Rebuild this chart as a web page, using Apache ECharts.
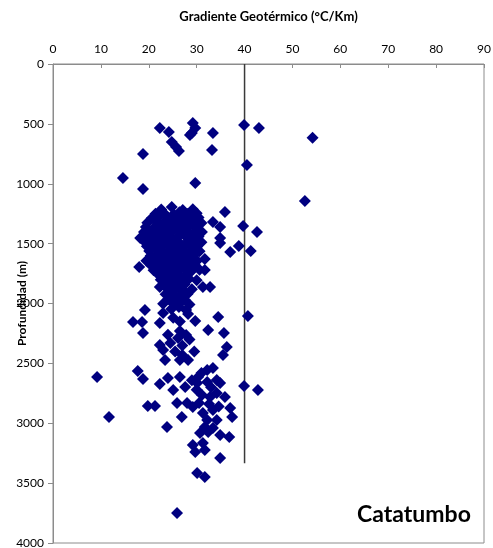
<!DOCTYPE html>
<html>
<head>
<meta charset="utf-8">
<script src="https://cdn.jsdelivr.net/npm/echarts@6/dist/echarts.min.js"></script>
<style>html,body{margin:0;padding:0;background:#fff}#c{width:493px;height:548px}</style>
</head>
<body>
<div id="c"></div>
<script>
// Tick labels
var xTicks = [0, 10, 20, 30, 40, 50, 60, 70, 80, 90];
var yTicks = [0, 500, 1000, 1500, 2000, 2500, 3000, 3500, 4000];

// Shallow points [gradient °C/Km, depth m]
var shallowPoints = [
  [22.3,534],[24.2,568],[24.8,651],[25.7,693],[26.3,726],[29.2,493],[29.7,534],[29.0,576],[28.6,593],
  [33.4,576],[33.2,718],[39.9,509],[43.0,534],[54.2,615],[40.5,843],[52.6,1144],
  [18.8,752],[14.6,952],[18.8,1044],[29.7,994]
];

// Dense cluster points
var clusterPoints = [
  [22.6,1215],[24.8,1195],[27.1,1220],[29.2,1213],
  [21.4,1250],[23.1,1242],[25.2,1254],[26.4,1238],[28.1,1252],[30.0,1246],
  [20.6,1288],[22.0,1278],[24.1,1292],[26.0,1282],[27.6,1274],[29.1,1290],[30.4,1282],
  [19.7,1325],[21.6,1318],[23.0,1330],[25.1,1322],[26.6,1315],[28.0,1332],[29.6,1320],[31.0,1328],
  [19.4,1361],[21.1,1368],[22.4,1356],[24.0,1365],[25.6,1358],[27.1,1370],[28.4,1360],[30.1,1366],
  [19.0,1402],[20.6,1396],[22.1,1408],[23.5,1400],[25.0,1395],[26.6,1405],[28.0,1398],[29.5,1410],[31.1,1402],
  [18.2,1453],[20.0,1440],[21.4,1446],[23.1,1438],[24.5,1450],[26.1,1442],[27.6,1436],[29.0,1448],[30.4,1440],
  [19.1,1482],[20.4,1490],[22.0,1478],[23.6,1486],[25.1,1480],[26.4,1492],[28.1,1484],[29.6,1476],[31.0,1488],
  [19.6,1522],[21.0,1516],[22.6,1528],[24.1,1520],[25.4,1514],[27.0,1526],[28.6,1518],[30.1,1524],
  [20.1,1562],[21.6,1556],[23.0,1568],[24.5,1560],[26.1,1554],[27.5,1566],[29.0,1558],[30.6,1564],
  [20.4,1602],[22.1,1596],[23.6,1608],[25.0,1600],[26.4,1594],[28.1,1606],[29.4,1598],
  [19.5,1642],[21.0,1636],[22.6,1648],[24.0,1640],[25.6,1634],[27.1,1646],[28.5,1638],[30.1,1644],
  [18.0,1695],[20.5,1682],[22.0,1676],[23.4,1688],[25.1,1680],[26.5,1674],[28.0,1686],[29.6,1678],
  [21.0,1722],[23.0,1716],[24.4,1728],[26.0,1720],[27.6,1714],[29.0,1726],[30.6,1718],
  [22.1,1762],[23.6,1756],[25.0,1768],[26.4,1760],[28.0,1754],
  [22.5,1802],[24.1,1796],[25.6,1808],[27.0,1800],[28.4,1794],[30.0,1806],
  [22.3,1862],[23.1,1842],[24.6,1836],[26.0,1848],[27.5,1840],
  [24.0,1882],[25.6,1876],[27.1,1888],[29.0,1880],
  [23.5,1922],[25.0,1916],[26.6,1928],[28.1,1920],
  [24.1,1962],[25.5,1956],[27.5,1968],
  [23.0,2002],[25.1,2000],[26.6,1996],[28.5,2008]
];

// Points scattered right of the cluster
var clusterOutliers = [
  [35.9,1236],[33.4,1319],[34.9,1361],[39.7,1353],[42.6,1403],[34.9,1453],[34.9,1495],
  [37.0,1570],[38.8,1520],[41.3,1562],[31.7,1628],[31.7,1720],[31.3,1862],[32.8,1862]
];

// Deeper points
var deepPoints = [
  [19.2,2054],[16.7,2154],[18.6,2154],[18.8,2246],[22.3,2163],[23.0,2080],[24.7,2046],[26.3,2030],
  [27.8,2054],[25.1,2120],[26.5,2150],[28.2,2088],[29.7,2146],[26.5,2230],[27.8,2263],[26.1,2288],
  [34.5,2113],[40.7,2104],[32.4,2221],[35.7,2246],[24.0,2260],[28.5,2300],[24.5,2330],[27.0,2350],
  [22.3,2346],[23.0,2388],[25.5,2400],[29.5,2400],[27.0,2430],[23.4,2472],[26.5,2472],[28.2,2472],
  [36.3,2363],[35.5,2430],[9.2,2614],[17.7,2564],[18.8,2631],[22.3,2672],[24.0,2622],[26.5,2614],
  [25.1,2722],[27.6,2697],[30.3,2614],[30.1,2664],[32.2,2555],[33.4,2539],[34.2,2639],[34.9,2664],
  [32.2,2656],[31.0,2580],[29.0,2640],[39.9,2689],[42.8,2722],[25.9,2831],[28.0,2831],[29.2,2865],
  [31.1,2764],[32.8,2781],[34.2,2747],[35.9,2781],[30.0,2720],[33.0,2700],[19.8,2856],[21.3,2856],
  [11.7,2948],[26.9,2948],[23.8,3031],[31.3,2915],[33.4,2890],[32.2,2973],[34.2,2973],[31.7,3031],
  [33.4,3040],[37.0,2873],[37.4,2948],[30.7,3081],[32.4,3073],[34.9,3098],[36.8,3115],[30.5,2830],
  [32.6,2840],[34.6,2860],[29.2,3181],[29.7,3240],[31.3,3165],[31.7,3223],[34.9,3290],
  [30.1,3415],[31.7,3449],[25.9,3750]
];

// Reference line at 40 °C/Km
var refLine = [[40, 0], [40, 3335]];

var allPoints = shallowPoints.concat(clusterPoints, clusterOutliers, deepPoints);

var chart = echarts.init(document.getElementById('c'));
var font = 'Lato, "Open Sans", sans-serif';
chart.setOption({
  animation: false,
  grid: { left: 53, right: 9, top: 64, bottom: 5, outerBoundsMode: 'none', containLabel: false, show: true, borderColor: '#8c8c8c', borderWidth: 1, backgroundColor: 'transparent' },
  xAxis: {
    type: 'value', position: 'top', min: 0, max: 90, interval: 10,
    name: 'Gradiente Geotérmico (°C/Km)', nameLocation: 'middle', nameGap: 41, nameMoveOverlap: false,
    nameTextStyle: { fontFamily: font, fontSize: 13, fontWeight: 'bold', color: '#000' },
    axisLine: { show: true, lineStyle: { color: '#8c8c8c', width: 1 } },
    axisTick: { show: true, inside: true, length: 4, lineStyle: { color: '#8c8c8c' } },
    axisLabel: { fontFamily: font, fontSize: 12, color: '#000', margin: 9, formatter: function (v) { return xTicks.indexOf(v) >= 0 ? String(v) : ''; } },
    splitLine: { show: false }
  },
  yAxis: {
    type: 'value', inverse: true, min: 0, max: 4000, interval: 500,
    name: 'Profundidad (m)', nameLocation: 'middle', nameGap: 25, nameRotate: 90, nameMoveOverlap: false,
    nameTextStyle: { fontFamily: font, fontSize: 12, fontWeight: 'bold', color: '#000' },
    axisLine: { show: true, lineStyle: { color: '#8c8c8c', width: 1 } },
    axisTick: { show: true, length: 5, lineStyle: { color: '#8c8c8c' } },
    axisLabel: { fontFamily: font, fontSize: 12, color: '#000', margin: 9, formatter: function (v) { return yTicks.indexOf(v) >= 0 ? String(v) : ''; } },
    splitLine: { show: false }
  },
  series: [
    {
      type: 'line', data: refLine, symbol: 'none', silent: true,
      lineStyle: { color: '#3a3a3a', width: 1.5 }, z: 1
    },
    {
      type: 'scatter', data: allPoints, symbol: 'diamond', symbolSize: 12,
      itemStyle: { color: '#000080', opacity: 1 }, z: 2
    }
  ],
  graphic: [
    { type: 'text', left: 357, top: 503, style: { text: 'Catatumbo', fontFamily: font, fontSize: 23, fontWeight: 'bold', fill: '#000' } }
  ]
});
</script>
</body>
</html>
